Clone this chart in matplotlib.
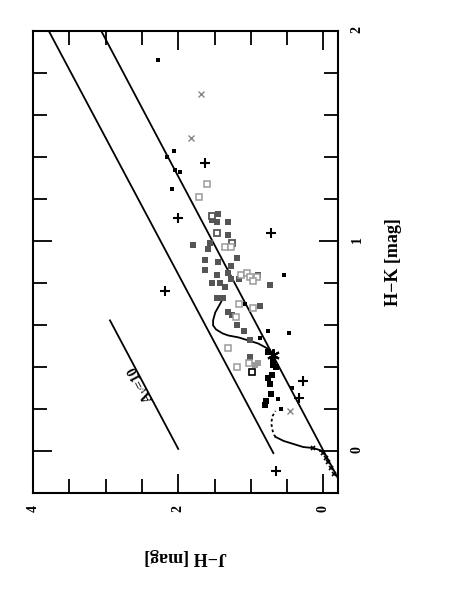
import matplotlib
matplotlib.use('Agg')
import matplotlib.pyplot as plt
from matplotlib.ticker import MultipleLocator, FixedLocator

# ---------------- data (J-H, H-K) in mag ----------------
# black small filled squares
blk_jh = [2.28, 2.06, 2.15, 2.04, 1.97, 2.08, 0.55, 1.08, 0.77, 0.48, 0.87, 0.43, 0.62, 0.59]
blk_hk = [1.86, 1.43, 1.40, 1.34, 1.33, 1.25, 0.84, 0.70, 0.57, 0.56, 0.54, 0.30, 0.25, 0.20]
# black larger filled squares (cluster on the dwarf line)
blkb_jh = [0.76, 0.70, 0.69, 0.77, 0.71, 0.74, 0.72, 0.79, 0.81, 0.66]
blkb_hk = [0.47, 0.44, 0.41, 0.35, 0.36, 0.32, 0.27, 0.24, 0.22, 0.40]
# dark grey filled squares
dg_jh = [1.45, 1.46, 1.32, 1.32, 1.79, 1.59, 1.56, 1.19, 1.63, 1.63, 1.45, 1.28, 1.46, 1.32,
         1.28, 1.53, 1.42, 1.35, 1.17, 0.90, 0.73, 1.46, 1.39, 1.31, 1.26, 1.19, 1.10, 0.87,
         1.01, 1.01, 1.53]
dg_hk = [1.13, 1.09, 1.09, 1.03, 0.98, 0.96, 0.99, 0.92, 0.91, 0.86, 0.90, 0.88, 0.84, 0.85,
         0.82, 0.80, 0.80, 0.78, 0.82, 0.84, 0.79, 0.73, 0.73, 0.66, 0.65, 0.60, 0.57, 0.69,
         0.53, 0.45, 1.10]
# dark grey open squares
dgo_jh = [1.53, 1.46, 1.26]
dgo_hk = [1.12, 1.04, 0.99]
# light grey open symbols
lg_jh = [1.60, 1.72, 1.35, 1.28, 1.14, 1.05, 1.01, 0.91, 0.97, 1.17, 1.21, 1.31, 1.03, 1.19, 0.97]
lg_hk = [1.27, 1.21, 0.97, 0.97, 0.84, 0.85, 0.83, 0.83, 0.81, 0.70, 0.64, 0.49, 0.42, 0.40, 0.68]
# light grey filled squares
lgf_jh = [0.90, 0.94]
lgf_hk = [0.42, 0.41]
# grey crosses
gx_jh = [1.68, 1.83, 0.46]
gx_hk = [1.70, 1.49, 0.19]
# black plus signs
pl_jh = [1.63, 2.00, 0.72, 2.18, 0.28, 0.34, 0.66]
pl_hk = [1.37, 1.11, 1.04, 0.76, 0.335, 0.254, -0.096]
# black small crosses near the origin
bx_jh = [0.14, 0.01, -0.03, -0.06, -0.10, -0.14]
bx_hk = [0.014, -0.01, -0.033, -0.053, -0.081, -0.110]
# black open square
bo_jh = [0.98]
bo_hk = [0.378]
# asterisk
st_jh = [0.70]
st_hk = [0.455]

# reddening band lines and reddening vector
left_jh = [0.69, 3.79]
left_hk = [-0.01, 2.005]
right_jh = [-0.20, 3.06]
right_hk = [-0.13, 2.0]
vec_jh = [2.00, 2.94]
vec_hk = [0.01, 0.622]
vec_label = 'A$_V$=10'

# giant-like loop curve
giant_jh = [1.37, 1.42, 1.49, 1.52, 1.52, 1.48, 1.39, 1.31, 1.17, 1.03, 0.90, 0.77, 0.70]
giant_hk = [0.737, 0.703, 0.660, 0.622, 0.598, 0.579, 0.560, 0.550, 0.541, 0.526, 0.512, 0.488, 0.464]
# dwarf sequence (solid) and late dwarf branch (dotted)
dwarf_jh = [0.01, 0.14, 0.28, 0.41, 0.55, 0.66]
dwarf_hk = [0.0, 0.014, 0.019, 0.033, 0.048, 0.067]
mdw_jh = [0.66, 0.68, 0.70, 0.72, 0.70, 0.66]
mdw_hk = [0.067, 0.077, 0.096, 0.134, 0.167, 0.191]

jh_ticks = [0, 2, 4]
jh_ticklabels = ['0', '2', '4']
hk_ticks = [0, 1, 2]
hk_ticklabels = ['0', '1', '2']

# ---------------- plot ----------------
plt.rcParams['font.family'] = ['Liberation Serif', 'DejaVu Serif']
plt.rcParams['mathtext.fontset'] = 'stix'

W, H = 463, 599
fig = plt.figure(figsize=(W / 100, H / 100), dpi=100)
x0, x1, y0, y1 = 33, 338, 31, 493
ax = fig.add_axes([x0 / W, 1 - y1 / H, (x1 - x0) / W, (y1 - y0) / H])
ax.set_xlim(4, -0.2)
ax.set_ylim(-0.2, 2.0)

k = 'black'
dg = '#555555'
lg = '#9a9a9a'

ax.plot(left_jh, left_hk, color=k, lw=1.3)
ax.plot(right_jh, right_hk, color=k, lw=1.3)
ax.plot(vec_jh, vec_hk, color=k, lw=1.3)
ax.plot(giant_jh, giant_hk, color=k, lw=1.3)
ax.plot(dwarf_jh, dwarf_hk, color=k, lw=1.3)
ax.plot(mdw_jh, mdw_hk, color=k, lw=1.3, ls=(0, (1.5, 1.5)))

ax.plot(dg_jh, dg_hk, 's', color=dg, ms=4.3, mew=0)
ax.plot(dgo_jh, dgo_hk, 's', mfc='white', mec=dg, ms=4.5, mew=1.3)
ax.plot(lg_jh, lg_hk, 's', mfc='white', mec=lg, ms=4, mew=1.1)
ax.plot(lgf_jh, lgf_hk, 's', color=lg, ms=5, mew=0)
ax.plot(gx_jh, gx_hk, 'x', color='#888888', ms=4, mew=1)
ax.plot(blk_jh, blk_hk, 's', color=k, ms=2.8, mew=0)
ax.plot(blkb_jh, blkb_hk, 's', color=k, ms=4, mew=0)
ax.plot(bo_jh, bo_hk, 's', mfc='white', mec=k, ms=4, mew=1.2)
ax.plot(pl_jh, pl_hk, '+', color=k, ms=7, mew=1.5)
ax.plot(bx_jh, bx_hk, 'x', color=k, ms=3, mew=1.2)
ax.plot(st_jh, st_hk, marker=(6, 2, 0), color=k, ms=9, mew=1.5, ls='none')

ax.text(2.52, 0.32, vec_label, rotation=118, rotation_mode='anchor',
        ha='center', va='center', fontsize=10, fontweight='bold')

# ticks
ax.xaxis.set_major_locator(FixedLocator(jh_ticks))
ax.xaxis.set_minor_locator(MultipleLocator(0.5))
ax.yaxis.set_major_locator(FixedLocator(hk_ticks))
ax.yaxis.set_minor_locator(MultipleLocator(0.2))
ax.set_xticklabels(jh_ticklabels)
ax.set_yticklabels(hk_ticklabels)
ax.tick_params(which='both', direction='in', top=True, bottom=True, left=True, right=True,
               labelleft=False, labelright=True, width=1.3, labelsize=10)
ax.tick_params(which='major', length=14)
ax.tick_params(which='minor', length=10)
ax.tick_params(axis='x', labelrotation=90, pad=9)
ax.tick_params(axis='y', labelrotation=90, pad=9)
for lab in ax.get_xticklabels() + ax.get_yticklabels():
    lab.set_fontweight('bold')
for s in ax.spines.values():
    s.set_linewidth(1.5)

ax.set_xlabel('J−H [mag]', rotation=180, ha='center', va='center', fontsize=13, fontweight='bold')
ax.xaxis.set_label_coords(0.5, -(557 - y1) / (y1 - y0))
ax.yaxis.set_label_position('right')
ax.set_ylabel('H−K [mag]', rotation=90, ha='center', va='center', fontsize=13, fontweight='bold')
ax.yaxis.set_label_coords((393 - x0) / (x1 - x0), 0.5)

fig.savefig('out.png', dpi=100)
